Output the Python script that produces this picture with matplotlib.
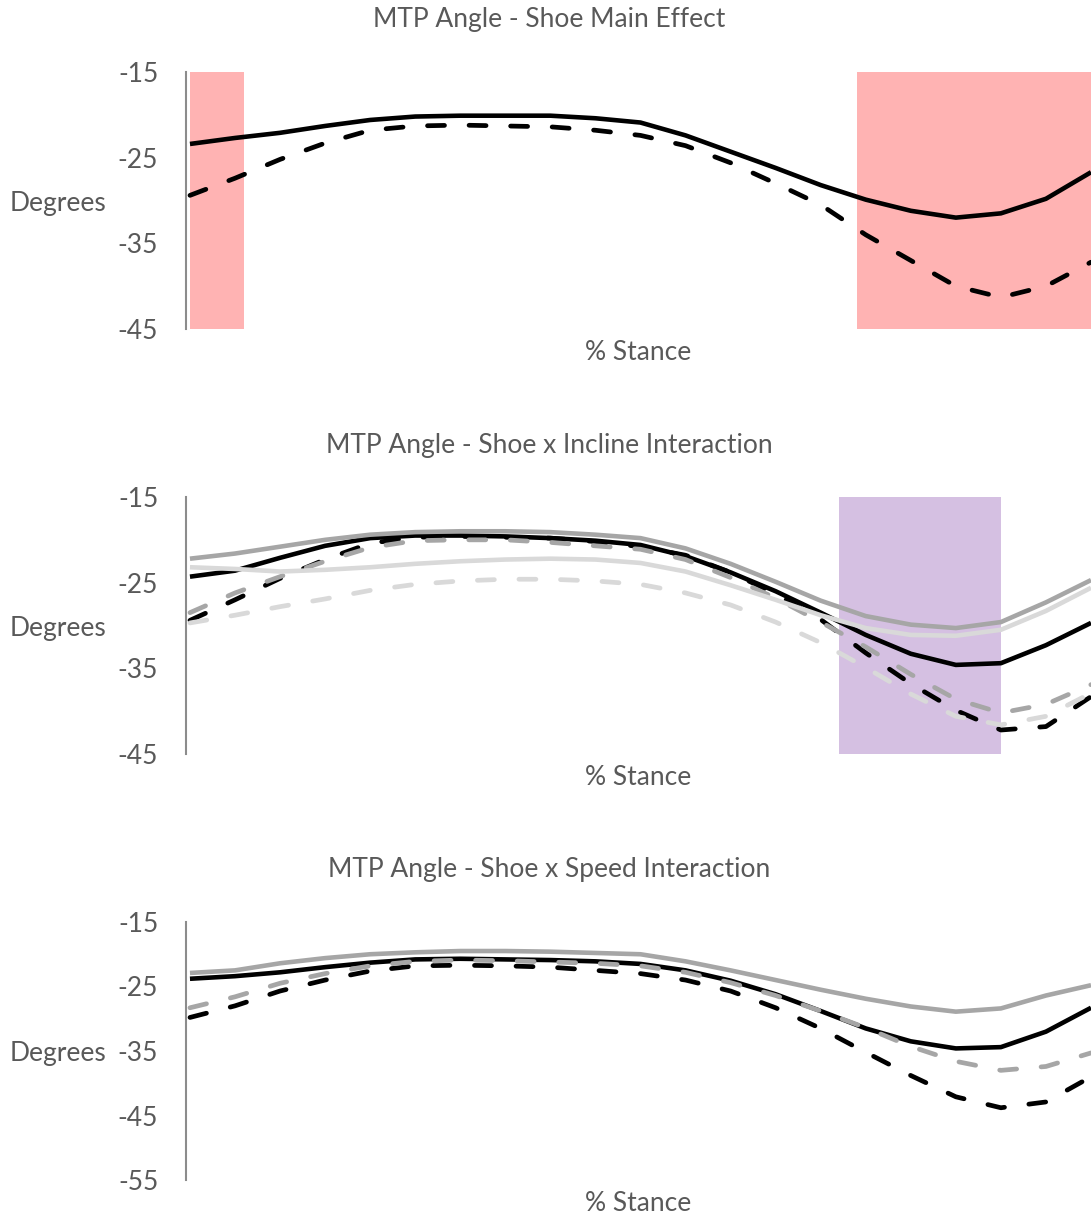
import matplotlib
matplotlib.use('Agg')
import matplotlib.pyplot as plt
import numpy as np

# % stance sample points
stance = list(range(0, 101, 5))

# Shoe main effect
main_solid = [-23.4, -22.7, -22.1, -21.3, -20.6, -20.2, -20.1, -20.1, -20.1, -20.4, -20.9,
              -22.4, -24.3, -26.2, -28.2, -29.9, -31.2, -32.0, -31.5, -29.8, -26.7]
main_dashed = [-29.4, -27.4, -25.2, -23.3, -21.8, -21.3, -21.2, -21.3, -21.4, -21.8, -22.4,
               -23.6, -25.6, -28.0, -30.5, -34.0, -37.0, -40.0, -41.3, -40.0, -37.2]
main_spans = [(0, 6), (74, 100)]

# Shoe x incline
inc_black_solid = [-24.3, -23.6, -22.1, -20.7, -19.8, -19.5, -19.5, -19.6, -19.8, -20.1, -20.6,
                   -21.9, -23.8, -26.0, -28.5, -31.1, -33.3, -34.6, -34.4, -32.3, -29.7]
inc_black_dashed = [-29.4, -27.0, -24.5, -22.3, -20.4, -19.7, -19.6, -19.7, -19.8, -20.2, -20.8,
                    -21.8, -23.8, -26.3, -29.3, -33.2, -36.8, -39.9, -42.2, -41.8, -38.3]
inc_gray_solid = [-22.2, -21.6, -20.8, -20.0, -19.4, -19.1, -19.0, -19.0, -19.1, -19.4, -19.8,
                  -21.0, -22.8, -24.9, -27.1, -28.9, -29.9, -30.3, -29.6, -27.3, -24.7]
inc_gray_dashed = [-28.5, -26.2, -24.3, -22.5, -20.9, -20.1, -20.0, -20.0, -20.3, -20.7, -21.1,
                   -22.3, -24.4, -26.8, -29.6, -32.5, -35.7, -38.6, -40.2, -39.2, -36.9]
inc_light_solid = [-23.2, -23.4, -23.7, -23.5, -23.2, -22.8, -22.5, -22.3, -22.2, -22.3, -22.7,
                   -23.7, -25.3, -27.0, -28.8, -30.3, -31.1, -31.2, -30.5, -28.3, -25.6]
inc_light_dashed = [-29.7, -28.8, -27.8, -26.9, -25.9, -25.2, -24.8, -24.6, -24.6, -24.8, -25.2,
                    -26.2, -27.6, -29.6, -32.0, -34.9, -38.0, -40.6, -41.6, -40.6, -37.9]
inc_spans = [(72, 90)]

# Shoe x speed
spd_black_solid = [-23.8, -23.4, -22.8, -22.0, -21.3, -20.8, -20.7, -20.8, -20.9, -21.1, -21.5,
                   -22.5, -24.1, -26.2, -28.8, -31.5, -33.5, -34.6, -34.4, -32.0, -28.3]
spd_black_dashed = [-29.8, -28.0, -25.7, -24.0, -22.6, -21.8, -21.7, -21.8, -22.0, -22.5, -23.0,
                    -24.0, -25.7, -28.3, -31.5, -35.2, -38.8, -42.1, -43.8, -42.9, -39.0]
spd_gray_solid = [-22.9, -22.5, -21.4, -20.6, -20.0, -19.7, -19.5, -19.5, -19.6, -19.8, -20.0,
                  -21.1, -22.5, -24.0, -25.5, -26.9, -28.1, -28.9, -28.4, -26.4, -24.8]
spd_gray_dashed = [-28.3, -26.6, -24.5, -23.0, -21.8, -21.1, -20.9, -21.0, -21.2, -21.4, -21.8,
                   -22.8, -24.4, -26.4, -28.8, -31.4, -34.3, -36.6, -38.0, -37.4, -35.3]

TXT = '#595959'
BLACK, GRAY, LIGHT = '#000000', '#A6A6A6', '#D9D9D9'
FS = 19
plt.rcParams['font.family'] = ['Lato', 'DejaVu Sans']

fig = plt.figure(figsize=(10.91, 12.15), dpi=100)
W, H = 1091.0, 1215.0


def make_axes(top_px, bot_px, ylim, yticks, title, title_y):
    ax = fig.add_axes([186 / W, 1 - bot_px / H, 1 - 186 / W, (bot_px - top_px) / H])
    ax.set_xlim(-0.44, 100)
    ax.set_ylim(*ylim)
    ax.set_yticks(yticks)
    ax.set_yticklabels([str(t) for t in yticks])
    ax.set_xticks([])
    for s in ['top', 'right', 'bottom']:
        ax.spines[s].set_visible(False)
    ax.spines['left'].set_color('#8C8C8C')
    ax.spines['left'].set_linewidth(1.5)
    ax.tick_params(axis='y', length=0, pad=20, labelsize=FS, labelcolor=TXT)
    ax.set_xlabel('% Stance', fontsize=FS, color=TXT, labelpad=8)
    fig.text(549 / W, 1 - title_y / H, title, ha='center', va='center', fontsize=FS, color=TXT)
    fig.text(10 / W, 1 - (top_px + bot_px + 6) / 2 / H, 'Degrees', ha='left', va='center',
             fontsize=FS, color=TXT)
    return ax


def draw(ax, y, color, dashed, z):
    if dashed:
        ax.plot(stance, y, color=color, lw=3.4, dashes=(3.6, 5.2), dash_capstyle='round',
                dash_joinstyle='round', zorder=z)
    else:
        ax.plot(stance, y, color=color, lw=3.3, solid_capstyle='butt',
                solid_joinstyle='round', zorder=z)


ax1 = make_axes(72, 329, (-45, -15), [-15, -25, -35, -45], 'MTP Angle - Shoe Main Effect', 20)
for a, b in main_spans:
    ax1.axvspan(a, b, color='#FFB3B3', lw=0, zorder=1)
draw(ax1, main_solid, BLACK, False, 3)
draw(ax1, main_dashed, BLACK, True, 3)

ax2 = make_axes(497, 754, (-45, -15), [-15, -25, -35, -45], 'MTP Angle - Shoe x Incline Interaction', 445)
for a, b in inc_spans:
    ax2.axvspan(a, b, color='#D5C0E2', lw=0, zorder=1)
draw(ax2, inc_black_solid, BLACK, False, 3)
draw(ax2, inc_black_dashed, BLACK, True, 3)
draw(ax2, inc_gray_solid, GRAY, False, 4)
draw(ax2, inc_gray_dashed, GRAY, True, 4)
draw(ax2, inc_light_solid, LIGHT, False, 5)
draw(ax2, inc_light_dashed, LIGHT, True, 5)

ax3 = make_axes(922, 1180, (-55, -15), [-15, -25, -35, -45, -55], 'MTP Angle - Shoe x Speed Interaction', 870)
draw(ax3, spd_black_solid, BLACK, False, 3)
draw(ax3, spd_black_dashed, BLACK, True, 3)
draw(ax3, spd_gray_solid, GRAY, False, 4)
draw(ax3, spd_gray_dashed, GRAY, True, 4)

fig.savefig('out.png', dpi=100)
